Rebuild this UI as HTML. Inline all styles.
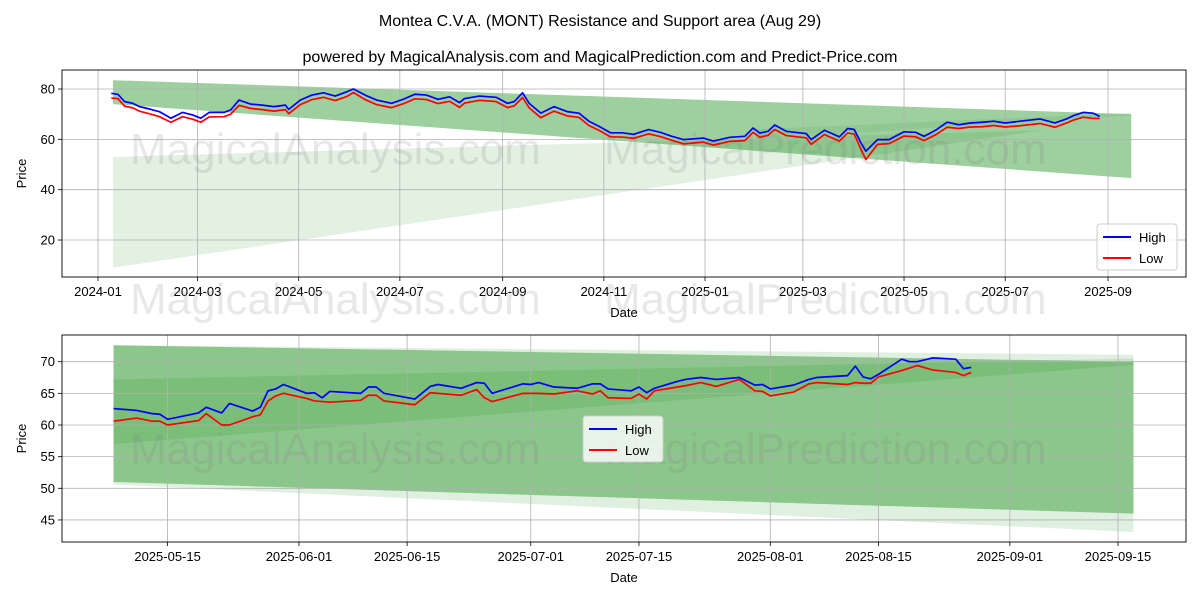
<!DOCTYPE html>
<html><head><meta charset="utf-8">
<style>
body{margin:0;background:#fff;}
svg{display:block;font-family:"Liberation Sans",sans-serif;}
</style></head>
<body>
<svg id="chart" width="1200" height="600" viewBox="0 0 1200 600" xmlns="http://www.w3.org/2000/svg">
<rect width="1200" height="600" fill="#fff"/>
<text x="600" y="26" font-size="16" text-anchor="middle" fill="#000">Montea C.V.A. (MONT) Resistance and Support area (Aug 29)</text>
<text x="600" y="62" font-size="16" text-anchor="middle" fill="#000">powered by MagicalAnalysis.com and MagicalPrediction.com and Predict-Price.com</text>
<g id="top"></g>
<g id="bottom"></g>
</svg>
<script>
// ---------- TOP CHART DATA ----------
const topDates = ["2024-01-09","2024-01-13","2024-01-17","2024-01-22","2024-01-26","2024-02-02","2024-02-07","2024-02-14","2024-02-21","2024-02-27","2024-03-03","2024-03-08","2024-03-17","2024-03-21","2024-03-26","2024-04-02","2024-04-09","2024-04-16","2024-04-23","2024-04-25","2024-05-02","2024-05-09","2024-05-16","2024-05-23","2024-05-30","2024-06-03","2024-06-10","2024-06-17","2024-06-26","2024-07-03","2024-07-10","2024-07-17","2024-07-24","2024-07-31","2024-08-06","2024-08-09","2024-08-18","2024-08-28","2024-09-04","2024-09-08","2024-09-13","2024-09-17","2024-09-24","2024-10-02","2024-10-10","2024-10-17","2024-10-23","2024-10-29","2024-11-05","2024-11-12","2024-11-19","2024-11-28","2024-12-05","2024-12-12","2024-12-19","2024-12-31","2025-01-06","2025-01-16","2025-01-25","2025-01-30","2025-02-03","2025-02-08","2025-02-12","2025-02-19","2025-03-03","2025-03-06","2025-03-14","2025-03-23","2025-03-28","2025-04-01","2025-04-05","2025-04-08","2025-04-15","2025-04-22","2025-05-01","2025-05-08","2025-05-13","2025-05-20","2025-05-27","2025-06-03","2025-06-10","2025-06-17","2025-06-24","2025-07-01","2025-07-10","2025-07-22","2025-07-31","2025-08-07","2025-08-11","2025-08-17","2025-08-23","2025-08-27"];
const topHigh = [78.3,77.9,75.0,74.3,73.0,71.9,71.0,68.4,70.7,69.7,68.4,70.7,70.7,71.7,75.6,74.0,73.6,73.0,73.6,71.9,75.6,77.6,78.5,77.2,78.9,80.0,77.6,75.6,74.3,75.9,77.9,77.6,75.9,76.9,74.6,76.2,77.2,76.7,74.3,75.0,78.5,74.3,70.4,73.0,71.0,70.4,67.2,65.2,62.6,62.6,62.0,63.9,62.8,61.2,59.9,60.5,59.3,60.8,61.2,64.5,62.5,63.2,65.7,63.2,62.3,59.9,63.6,61.0,64.3,63.9,58.6,55.3,59.9,59.9,63.0,62.8,61.2,63.6,66.8,65.8,66.5,66.8,67.2,66.5,67.2,68.1,66.5,68.1,69.4,70.7,70.4,69.1];
const topLow = [76.4,76.2,73.2,72.5,71.2,70.0,69.0,66.8,69.0,68.0,66.8,68.9,69.0,70.0,73.5,72.3,71.8,71.2,71.8,70.2,73.8,75.8,76.7,75.4,77.0,78.6,75.8,73.8,72.6,74.1,76.1,75.8,74.2,75.1,72.7,74.4,75.5,75.0,72.6,73.3,76.6,72.5,68.6,71.2,69.3,68.7,65.5,63.6,61.0,60.9,60.4,62.2,61.1,59.6,58.2,58.9,57.7,59.2,59.5,62.8,60.8,61.6,63.9,61.5,60.6,58.0,61.9,59.3,62.5,62.1,56.0,52.0,58.0,58.3,61.3,61.0,59.5,61.8,64.8,64.3,64.9,65.0,65.5,64.9,65.4,66.3,64.8,66.5,67.6,68.8,68.3,68.3];
const topYTicks = [20,40,60,80];
const topXTicks = ["2024-01","2024-03","2024-05","2024-07","2024-09","2024-11","2025-01","2025-03","2025-05","2025-07","2025-09"];
const topBandStart = "2024-01-10", topBandEnd = "2025-09-15";
const topLightApexDate = "2025-07-23";
const topBandLight = [53,63.6,63.6,9];
const topBandDark = [83.5,70,44.6,74];
const topBandInner = [64,70.5,69.5,60];
const topInnerStart = "2025-02-01";

// ---------- BOTTOM CHART DATA ----------
const botDates = ["2025-05-08","2025-05-11","2025-05-13","2025-05-14","2025-05-15","2025-05-19","2025-05-20","2025-05-22","2025-05-23","2025-05-26","2025-05-27","2025-05-28","2025-05-29","2025-05-30","2025-06-02","2025-06-03","2025-06-04","2025-06-05","2025-06-09","2025-06-10","2025-06-11","2025-06-12","2025-06-16","2025-06-18","2025-06-19","2025-06-22","2025-06-24","2025-06-25","2025-06-26","2025-06-30","2025-07-01","2025-07-02","2025-07-04","2025-07-07","2025-07-09","2025-07-10","2025-07-11","2025-07-14","2025-07-15","2025-07-16","2025-07-17","2025-07-20","2025-07-21","2025-07-23","2025-07-25","2025-07-28","2025-07-30","2025-07-31","2025-08-01","2025-08-04","2025-08-06","2025-08-07","2025-08-11","2025-08-12","2025-08-13","2025-08-14","2025-08-15","2025-08-18","2025-08-19","2025-08-20","2025-08-22","2025-08-25","2025-08-26","2025-08-27"];
const botHigh = [62.6,62.3,61.8,61.7,60.9,61.9,62.8,61.9,63.4,62.2,62.8,65.4,65.7,66.4,65.0,65.1,64.3,65.3,65.0,66.0,66.0,65.0,64.1,66.1,66.4,65.8,66.7,66.6,65.0,66.5,66.4,66.7,66.0,65.8,66.5,66.5,65.7,65.4,66.0,65.1,65.8,66.9,67.2,67.5,67.2,67.5,66.3,66.4,65.7,66.3,67.2,67.5,67.8,69.3,67.6,67.3,68.0,70.4,70.0,70.0,70.6,70.4,68.9,69.1];
const botLow = [60.6,61.1,60.6,60.6,60.0,60.7,61.8,60.0,60.0,61.3,61.6,63.8,64.6,65.0,64.2,63.8,63.7,63.6,63.9,64.7,64.7,63.8,63.2,65.1,65.0,64.7,65.6,64.3,63.7,65.0,65.0,65.0,64.9,65.4,64.9,65.4,64.3,64.2,64.9,64.1,65.4,66.0,66.2,66.7,66.1,67.2,65.4,65.3,64.6,65.2,66.5,66.7,66.4,66.7,66.6,66.6,67.6,68.6,69.0,69.4,68.7,68.3,67.8,68.3];
const botYTicks = [45,50,55,60,65,70];
const botXTicks = ["2025-05-15","2025-06-01","2025-06-15","2025-07-01","2025-07-15","2025-08-01","2025-08-15","2025-09-01","2025-09-15"];
const botBandStart = "2025-05-08", botBandEnd = "2025-09-17";
const botBandLight = [72.6,71.1,43.1,50.6];
const botBandDark = [72.6,70,46,51];
const botBandInner = [67.2,70.5,69.5,57];

const NS="http://www.w3.org/2000/svg";
function dayNum(s){const p=s.split("-").map(Number);return Date.UTC(p[0],p[1]-1,p[2]||1)/86400000;}
function mk(parent,tag,attrs){const e=document.createElementNS(NS,tag);for(const k in attrs)e.setAttribute(k,attrs[k]);parent.appendChild(e);return e;}

function drawPanel(g,cfg){
  const {L,R,T,B,x,y}=cfg;
  function band(vals,s,e,fill,op,name){
    const p=[[x(s),y(vals[0])],[x(e),y(vals[1])],[x(e),y(vals[2])],[x(s),y(vals[3])]];
    const el=mk(g,"polygon",{points:p.map(q=>q.join(",")).join(" "),fill:fill,"fill-opacity":op});
    
    
  }
  band(cfg.light,cfg.bs,cfg.le,"#008000",cfg.lightOp,"support-band-light");
  band(cfg.dark,cfg.bs,cfg.be,"#008000",0.38,"resistance-band");
  band(cfg.inner,cfg.is,cfg.be,"#008000",cfg.innerOp,"inner-band");
  cfg.yt.forEach(v=>{
    const l=mk(g,"line",{x1:L,x2:R,y1:y(v),y2:y(v),stroke:"#b0b0b0","stroke-width":0.8});
    
    
    const tk=mk(g,"line",{x1:L-4,x2:L,y1:y(v),y2:y(v),stroke:"#000","stroke-width":0.8});
    
    
    const t=mk(g,"text",{x:L-7,y:y(v)+4.5,"font-size":13,"text-anchor":"end",fill:"#000"});
    t.textContent=v;
    
    
  });
  cfg.xt.forEach(d=>{
    const xv=x(d);
    const l=mk(g,"line",{x1:xv,x2:xv,y1:T,y2:B,stroke:"#b0b0b0","stroke-width":0.8});
    
    
    const tk=mk(g,"line",{x1:xv,x2:xv,y1:B,y2:B+4,stroke:"#000","stroke-width":0.8});
    
    
    const t=mk(g,"text",{x:xv,y:B+19,"font-size":13,"text-anchor":"middle",fill:"#000"});
    t.textContent=d;
    
    
  });
  cfg.wm.forEach(w=>{
    const t=mk(g,"text",{x:w[0],y:w[1],"font-size":44,fill:"#808080","fill-opacity":0.18});
    t.textContent=w[2];
    
    
  });
  function line(dates,vals,col,name){
    const el=mk(g,"polyline",{points:dates.map((d,i)=>x(d)+","+y(vals[i])).join(" "),fill:"none",stroke:col,"stroke-width":1.7,"stroke-linejoin":"round"});
    
    
  }
  line(cfg.dates,cfg.high,"#0000ff","high-line");
  line(cfg.dates,cfg.low,"#ff0000","low-line");
  const fr=mk(g,"rect",{x:L,y:T,width:R-L,height:B-T,fill:"none",stroke:"#000","stroke-width":0.9});
  
  
  const yl=mk(g,"text",{x:0,y:0,"font-size":13,"text-anchor":"middle",transform:`translate(26,${(T+B)/2}) rotate(-90)`});
  yl.textContent="Price";
  
  
  const xl=mk(g,"text",{x:(L+R)/2,y:B+40,"font-size":13,"text-anchor":"middle"});
  xl.textContent="Date";
  
  
  const [lx,ly]=cfg.leg;
  const lg=mk(g,"g",{});
  
  
  mk(lg,"rect",{x:lx,y:ly,width:80,height:46,rx:3,fill:"#fff","fill-opacity":0.8,stroke:"#ccc"});
  [["High","#0000ff"],["Low","#ff0000"]].forEach((e,i)=>{
    const yy=ly+13+i*21;
    const it=mk(lg,"g",{});
    
    
    mk(it,"line",{x1:lx+6,x2:lx+34,y1:yy,y2:yy,stroke:e[1],"stroke-width":2});
    const t=mk(it,"text",{x:lx+42,y:yy+5,"font-size":13});
    t.textContent=e[0];
  });
}

const t0=dayNum("2024-01-01");
drawPanel(document.getElementById("top"),{
  L:62,R:1186,T:70,B:277,
  x:d=>98+(dayNum(d)-t0)*1.6585,
  y:v=>89+(80-v)*2.517,
  yt:topYTicks,xt:topXTicks,dates:topDates,high:topHigh,low:topLow,
  light:topBandLight,dark:topBandDark,inner:topBandInner,lightOp:0.11,innerOp:0.08,
  bs:topBandStart,be:topBandEnd,le:topLightApexDate,is:topInnerStart,
  wm:[[130,164,"MagicalAnalysis.com"],[604,164,"MagicalPrediction.com"],[130,314,"MagicalAnalysis.com"],[604,314,"MagicalPrediction.com"]],
  leg:[1097,224]
});
const b0=dayNum("2025-05-15");
drawPanel(document.getElementById("bottom"),{
  L:62,R:1186,T:335,B:542,
  x:d=>167.6+(dayNum(d)-b0)*7.727,
  y:v=>361.7+(70-v)*6.33,
  yt:botYTicks,xt:botXTicks,dates:botDates,high:botHigh,low:botLow,
  light:botBandLight,dark:botBandDark,inner:botBandInner,lightOp:0.12,innerOp:0.12,
  bs:botBandStart,be:botBandEnd,le:botBandEnd,is:botBandStart,
  wm:[[130,464,"MagicalAnalysis.com"],[604,464,"MagicalPrediction.com"]],
  leg:[583,416]
});
</script>
</body></html>
